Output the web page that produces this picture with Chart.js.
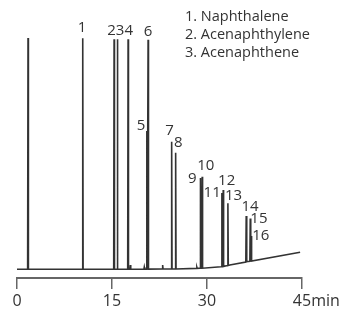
<!DOCTYPE html>
<html>
<head>
<meta charset="utf-8">
<script src="https://cdn.jsdelivr.net/npm/chart.js@4/dist/chart.umd.min.js"></script>
<style>
  body { margin: 0; background: #fff; }
  #wrap { width: 340px; height: 316px; }
</style>
</head>
<body>
<div id="wrap"><canvas id="chrom" width="340" height="316"></canvas></div>
<script>
// ---- data (time in min, signal in arbitrary units) ----
const baseTimes = [0, 28.9, 32.2, 33.6, 36.3, 44.7];
const baseLevels = [8.7, 9.7, 11.3, 13.0, 16.3, 25.7];

const peakTimes = [1.74, 10.38, 15.33, 15.85, 17.54, 17.9, 20.1, 20.5, 20.7, 23.0, 24.42, 25.05, 28.4, 29.0, 29.24, 32.35, 32.56, 33.3, 36.19, 36.83, 36.98];
const peakTops  = [240, 239.7, 238.7, 238.7, 238.7, 13, 11, 147, 238.3, 13, 136.3, 125.3, 10.8, 100, 101.3, 85, 88, 74.7, 62, 59.5, 42];
const peakBases = [8.7, 8.7, 8.8, 8.8, 8.8, 8.8, 8.9, 8.9, 8.9, 9.0, 9.0, 9.0, 9.6, 9.7, 9.8, 11.4, 11.6, 12.5, 16.0, 16.7, 16.9];

const peakLabels = ['1', '234', '5', '6', '7', '8', '9', '10', '11', '12', '13', '14', '15', '16'];
const labelTimes = [10.27, 16.28, 19.6, 20.7, 24.1, 25.45, 27.66, 29.8, 30.82, 33.1, 34.2, 36.8, 38.2, 38.5];
const labelLevels = [250, 247, 152, 246, 147, 135.5, 99, 112, 85, 97, 82, 71.5, 59.5, 42];

const compounds = ['1. Naphthalene', '2. Acenaphthylene', '3. Acenaphthene'];
const xTicks = [0, 15, 30, 45];

// =======================
// BUILD TRACE
// =======================
const trace = [];
baseTimes.forEach((t, i) => trace.push({ x: t, y: baseLevels[i] }));
peakTimes.forEach((t, i) => {
    trace.push({ x: t - 0.06, y: peakBases[i] });
    trace.push({ x: t, y: peakTops[i] });
    trace.push({ x: t + 0.06, y: peakBases[i] });
});
trace.sort((a, b) => a.x - b.x);

const FONT = "'Open Sans', 'DejaVu Sans', sans-serif";
const INK = '#333';

// =======================
// TEXT PLUGIN (peak numbers, compound list, "min")
// =======================
const textPlugin = {
    id: 'chromText',
    afterDraw(chart) {
        const { ctx, scales } = chart;
        ctx.save();
        ctx.fillStyle = INK;
        ctx.textAlign = 'center';
        ctx.textBaseline = 'middle';
        ctx.font = `15px ${FONT}`;
        peakLabels.forEach((lbl, i) => {
            ctx.fillText(lbl, scales.x.getPixelForValue(labelTimes[i]), scales.y.getPixelForValue(labelLevels[i]));
        });

        ctx.textAlign = 'left';
        ctx.font = `14.5px ${FONT}`;
        compounds.forEach((c, i) => ctx.fillText(c, 185, 17 + i * 18));

        // unit after last tick, on the same line as "45"
        ctx.font = `16px ${FONT}`;
        const w45 = ctx.measureText('45').width;
        const items = scales.x._labelItems;
        const last = items && items.length ? items[items.length - 1] : null;
        ctx.textBaseline = last ? last.options.textBaseline : 'middle';
        const ly = last ? last.options.translation[1] + (last.textOffset || 0) : 300;
        ctx.fillText('min', scales.x.getPixelForValue(45) + w45 / 2, ly);
        ctx.restore();
    }
};

new Chart(document.getElementById('chrom'), {
    type: 'line',
    data: {
        datasets: [{
            data: trace,
            borderColor: INK,
            borderWidth: 1.6,
            pointRadius: 0,
            tension: 0,
            fill: false
        }]
    },
    options: {
        responsive: false,
        animation: false,
        layout: { padding: { left: 17, right: 38, top: 33, bottom: 0 } },
        plugins: { legend: { display: false }, tooltip: { enabled: false } },
        scales: {
            x: {
                type: 'linear',
                min: 0,
                max: 45,
                afterBuildTicks: axis => { axis.ticks = xTicks.map(v => ({ value: v })); },
                afterFit: axis => { axis.height = 38; },
                ticks: {
                    color: INK,
                    font: { family: FONT, size: 16 },
                    padding: 3,
                    maxRotation: 0
                },
                grid: { drawOnChartArea: false, drawTicks: true, tickLength: 11, color: '#666', lineWidth: 1.5 },
                border: { color: '#666', width: 2 }
            },
            y: { display: false, min: 0, max: 245 }
        }
    },
    plugins: [textPlugin]
});
</script>
</body>
</html>
